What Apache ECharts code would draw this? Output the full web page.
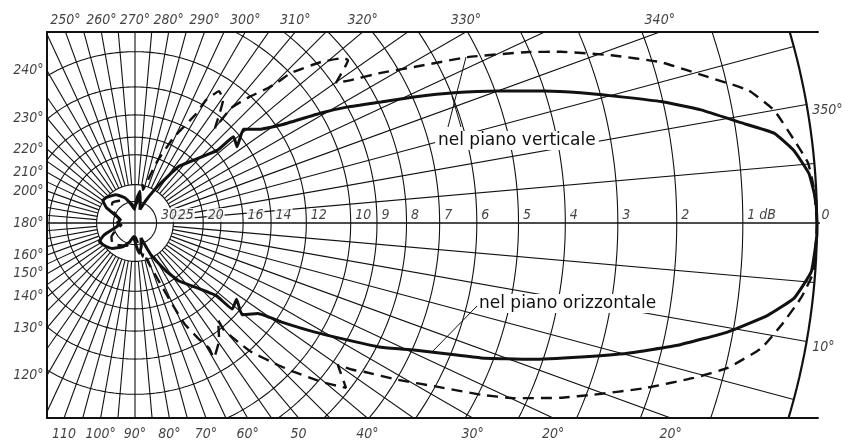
<!DOCTYPE html>
<html>
<head>
<meta charset="utf-8">
<script src="https://cdn.jsdelivr.net/npm/echarts@6/dist/echarts.min.js"></script>
<style>
html, body { margin: 0; padding: 0; background: #fff; }
#chart { width: 853px; height: 442px; }
</style>
</head>
<body>
<div id="chart"></div>
<script>
// grid rings (dB below maximum, field scale) and the dB labels on the 0° axis
const ringDb = [0, 1, 2, 3, 4, 5, 6, 7, 8, 9, 10, 12, 14, 16, 18, 20, 25, 30]
const dbLabelValues = [30, 25, 20, 16, 14, 12, 10, 9, 8, 7, 6, 5, 4, 3, 2, 1, 0]
const dbLabelTexts = ['30', '25', '20', '16', '14', '12', '10', '9', '8', '7', '6', '5', '4', '3', '2', '1 dB', '0']

// angle labels round the frame
const topAngles = [250, 260, 270, 280, 290, 300, 310, 320, 330, 340]
const leftAngles = [240, 230, 220, 210, 200, 180, 160, 150, 140, 130, 120]
const bottomAngles = [110, 100, 90, 80, 70, 60, 50, 40, 30, 25, 20]
const bottomTexts = ['110', '100°', '90°', '80°', '70°', '60°', '50', '40°', '30°', '20°', '20°']
const rightAngles = [350, 10]

// patterns: [angle in degrees, dB below maximum]
const upperSolid = [
  [360, 0], [358.1, 0.01], [355.8, 0.08], [353.7, 0.25], [352.0, 0.48], [350.6, 0.91],
  [348.7, 1.45], [347.0, 2.03], [345.55, 2.62], [343.7, 3.34], [342.1, 4.01], [340.0, 4.94],
  [337.8, 5.93], [335.7, 6.96], [333.8, 7.92], [331.4, 8.98], [329.4, 9.98], [326.1, 11.78],
  [323.3, 12.76], [319.2, 13.55], [323.2, 14.57], [318.8, 14.33], [318.6, 15.83], [313.1, 17.95],
  [307.5, 19.7], [301.9, 23.9], [296, 28.5], [290, 33.5], [284, 30], [279, 26.5], [274, 29],
  [268, 34], [258, 31], [248, 28], [236, 26], [222, 25], [215, 24.8], [208, 26.5], [200, 31],
  [190, 33], [180, 31.5]
]
const lowerSolid = [
  [0, 0], [1, 0], [4.1, 0.05], [6.5, 0.24], [8.3, 0.56], [10.4, 1.07], [12.7, 1.77],
  [14.8, 2.53], [16.7, 3.31], [19.0, 4.24], [21.3, 5.28], [22.7, 6.06], [24.5, 6.95],
  [26.8, 7.87], [28.8, 8.96], [31.3, 10.25], [34.1, 11.75], [36.4, 13.0], [40.6, 13.7],
  [36.9, 14.6], [41.5, 14.4], [41.8, 15.9], [47.5, 18.0], [53, 19.5], [57, 21.5], [63.4, 25.6],
  [68.2, 32.5], [75, 29], [82, 27], [88, 30], [95, 34], [105, 31], [118, 28], [132, 26],
  [145, 25], [152.4, 24.6], [159, 26.3], [168, 31], [175, 33], [180, 31.5]
]
const upperDashed = [
  [360, 0], [357, 0.03], [354.9, 0.08], [352.8, 0.23], [350, 0.43], [347.8, 0.72],
  [345.7, 1.24], [343, 1.87], [340.6, 2.61], [338.1, 3.44], [336.5, 4.03], [333.5, 5.27],
  [330.8, 6.58], [328.6, 7.48], [326.5, 8.41], [325.1, 8.89], [322.6, 8.11], [321.6, 8.19],
  [319.1, 8.86], [316.1, 9.97], [315.4, 10.62], [314.6, 11.12], [312.1, 12.1], [309.9, 13.16],
  [310.1, 14.79], [305.6, 13.08], [302.5, 12.79], [300.0, 13.63], [299.2, 14.74], [294.4, 17.2],
  [290, 20.2], [286.8, 23.6], [283.5, 26], [281.5, 24.9], [278, 29], [272, 34], [262, 31],
  [250, 29], [235, 28], [222, 27], [212, 28], [200, 31], [190, 34], [180, 32]
]
const lowerDashed = [
  [0, 0], [4.1, 0.02], [6.4, 0.15], [9.0, 0.36], [11.3, 0.57], [13.7, 0.96], [15.5, 1.41],
  [18, 2.11], [20.5, 2.87], [22.3, 3.41], [24.8, 4.26], [26.4, 4.94], [28.4, 5.93], [30.8, 6.95],
  [33, 7.95], [33.9, 8.26], [35, 8.8], [38, 8.12], [40.5, 8.91], [43.1, 9.91], [44.8, 10.59],
  [48, 11.9], [49.1, 12.74], [50.3, 13.8], [49.4, 14.55], [54.3, 13.5], [59.7, 12.8],
  [59.4, 13.43], [61.3, 14.3], [63.9, 15.7], [65.1, 17.3], [67.2, 20.1], [71.6, 24.4], [74, 27],
  [77.2, 25.9], [80, 29], [88, 34], [98, 31], [110, 29], [125, 28], [138, 27], [150, 28],
  [162, 31], [172, 34], [180, 32]
]

// visible window of the diagram, in units of the 0 dB radius
const XMIN = -88 / 682
const XMAX = XMIN + 771 / 682
const YMAX = 191 / 682
const YMIN = YMAX - 386 / 682

const INK = '#111'
const FONT = "'DejaVu Sans Condensed', 'Liberation Sans Narrow', sans-serif"

function field (db) {
  return Math.pow(10, -db / 20)
}
function toXY (a, db) {
  const r = field(db)
  const t = a * Math.PI / 180
  return [r * Math.cos(t), -r * Math.sin(t)]
}
function dir (a) {
  const t = a * Math.PI / 180
  return [Math.cos(t), -Math.sin(t)]
}

const series = []

// dB rings
ringDb.forEach(db => {
  const pts = []
  for (let a = 0; a <= 360; a += 1) pts.push(toXY(a, db))
  series.push({
    type: 'line',
    data: pts,
    showSymbol: false,
    silent: true,
    lineStyle: { color: INK, width: db === 0 ? 2.2 : 1.1 },
    z: 1
  })
})

// angle rays every 5°
const rInner = field(25)
for (let a = 5; a < 360; a += 5) {
  if (a === 180) continue
  const d = dir(a)
  const r0 = (a === 90 || a === 270) ? 0 : rInner
  series.push({
    type: 'line',
    data: [[d[0] * r0, d[1] * r0], [d[0], d[1]]],
    showSymbol: false,
    silent: true,
    lineStyle: { color: INK, width: 1.1 },
    z: 1
  })
}

// 0°-180° axis, running past the frame on the right
series.push({
  type: 'line',
  data: [[XMIN, 0], [1.048, 0]],
  showSymbol: false,
  silent: true,
  clip: false,
  lineStyle: { color: INK, width: 1.3 },
  z: 1
})

function curve (arr, dashed) {
  return {
    type: 'line',
    data: arr.map(p => toXY(p[0], p[1])),
    showSymbol: false,
    silent: true,
    smooth: 0.12,
    lineStyle: dashed
      ? { color: INK, width: 2.4, type: [11, 7] }
      : { color: INK, width: 3 },
    z: 3
  }
}
series.push(curve(upperSolid, false))
series.push(curve(lowerSolid, false))
series.push(curve(upperDashed, true))
series.push(curve(lowerDashed, true))

function labelSeries (data, label) {
  return {
    type: 'scatter',
    data: data,
    symbolSize: 1,
    clip: false,
    silent: true,
    itemStyle: { color: 'rgba(0,0,0,0)' },
    label: Object.assign({
      show: true,
      formatter: '{b}',
      color: INK,
      fontFamily: FONT,
      fontStyle: 'italic',
      fontSize: 14
    }, label),
    z: 5
  }
}

series.push(labelSeries(topAngles.map(a => {
  const d = dir(a)
  return { name: a + '°', value: [d[0] * YMAX / d[1], YMAX] }
}), { position: 'top', distance: 4 }))

series.push(labelSeries(leftAngles.map(a => {
  const d = dir(a)
  return { name: a + '°', value: [XMIN, d[1] * XMIN / d[0]] }
}), { position: 'left', distance: 3 }))

series.push(labelSeries(bottomAngles.map((a, i) => {
  const d = dir(a)
  return { name: bottomTexts[i], value: [d[0] * YMIN / d[1], YMIN] }
}), { position: 'bottom', distance: 9 }))

series.push(labelSeries(rightAngles.map(a => {
  const d = dir(a)
  return { name: a + '°', value: [d[0], d[1]] }
}), { position: 'right', distance: 5, offset: [0, 6] }))

series.push(labelSeries(dbLabelValues.map((db, i) => {
  return { name: dbLabelTexts[i], value: [field(db), 0] }
}), {
  position: 'right',
  distance: 3,
  offset: [0, -8],
  fontSize: 14,
  backgroundColor: '#fff',
  padding: [0, 1, 0, 1]
}))

const hiddenAxis = {
  type: 'value',
  axisTick: { show: false },
  axisLabel: { show: false },
  splitLine: { show: false }
}

const chart = echarts.init(document.getElementById('chart'), null, { renderer: 'canvas' })
chart.setOption({
  animation: false,
  backgroundColor: '#fff',
  grid: { left: 47, right: 35, top: 32, bottom: 24 },
  xAxis: [
    Object.assign({}, hiddenAxis, {
      min: XMIN, max: XMAX, position: 'bottom',
      axisLine: { show: true, onZero: false, lineStyle: { color: INK, width: 2 } }
    }),
    Object.assign({}, hiddenAxis, {
      min: XMIN, max: XMAX, position: 'top',
      axisLine: { show: true, onZero: false, lineStyle: { color: INK, width: 2 } }
    })
  ],
  yAxis: Object.assign({}, hiddenAxis, {
    min: YMIN, max: YMAX, position: 'left',
    axisLine: { show: true, onZero: false, lineStyle: { color: INK, width: 2 } }
  }),
  series: series,
  graphic: [
    {
      type: 'text', left: 435, top: 131, z: 100,
      style: {
        text: 'nel piano verticale', fontSize: 17, fontFamily: 'DejaVu Sans',
        fill: INK, backgroundColor: '#fff', padding: [1, 3]
      }
    },
    {
      type: 'text', left: 476, top: 294, z: 100,
      style: {
        text: 'nel piano orizzontale', fontSize: 17, fontFamily: 'DejaVu Sans',
        fill: INK, backgroundColor: '#fff', padding: [1, 3]
      }
    },
    { type: 'line', z: 100, shape: { x1: 448, y1: 127, x2: 466, y2: 57 }, style: { stroke: INK, lineWidth: 1 } },
    { type: 'line', z: 100, shape: { x1: 461, y1: 127, x2: 452, y2: 96 }, style: { stroke: INK, lineWidth: 1 } },
    { type: 'line', z: 100, shape: { x1: 477, y1: 306, x2: 432, y2: 352 }, style: { stroke: INK, lineWidth: 1 } }
  ]
})
</script>
</body>
</html>
